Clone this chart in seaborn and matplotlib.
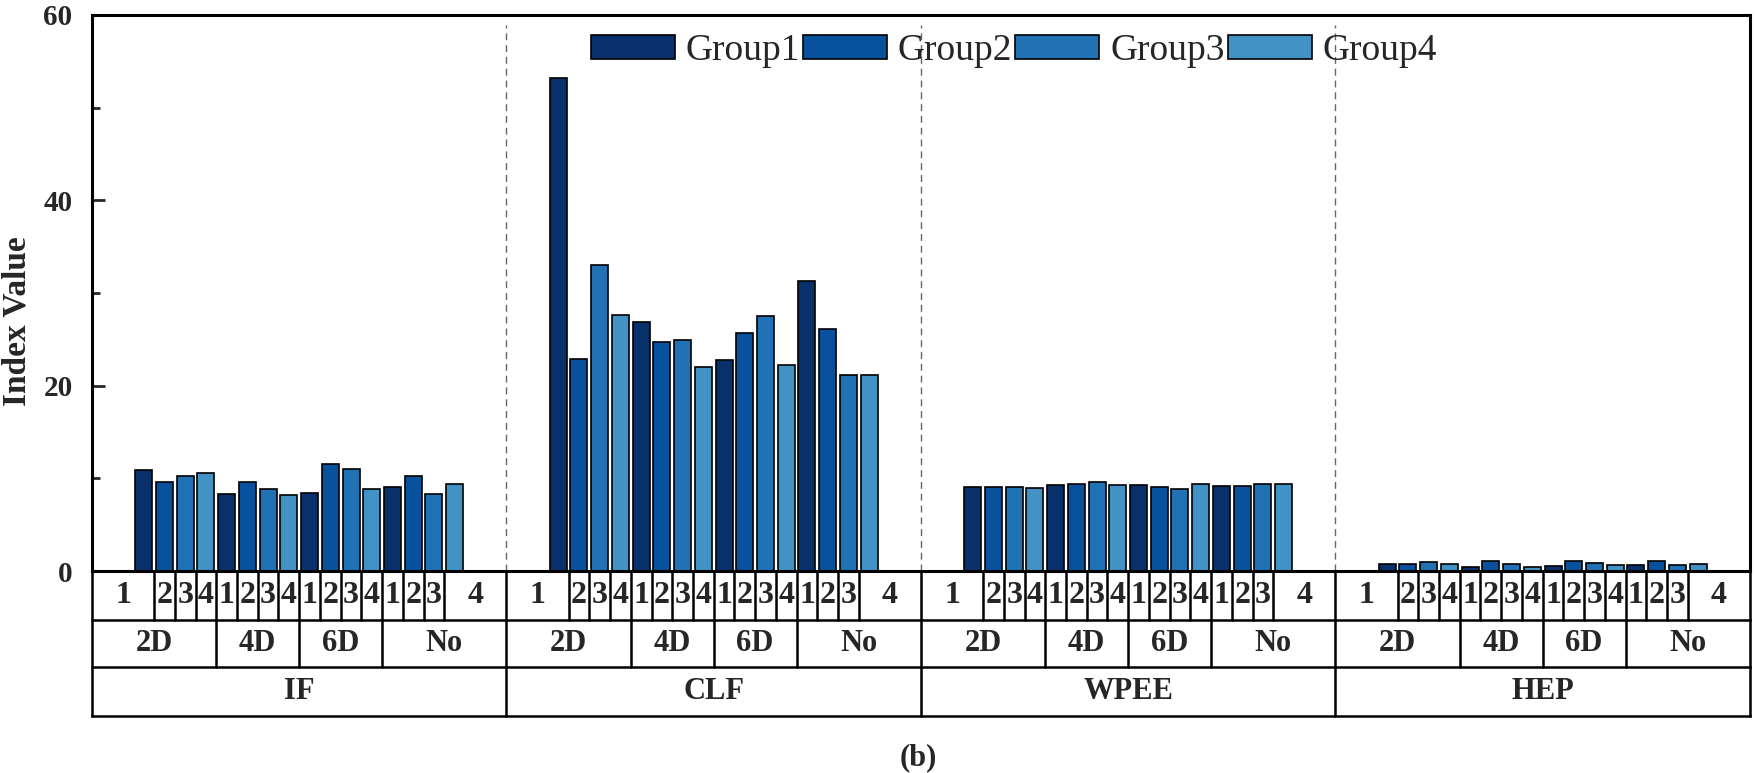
import pandas as pd
import numpy as np
import matplotlib.pyplot as plt
import seaborn as sns

# data
indices = ["IF", "CLF", "WPEE", "HEP"]
conditions = ["2D", "4D", "6D", "No"]
groups = ["Group1", "Group2", "Group3", "Group4"]

# 16 values per index: condition 2D,4D,6D,No x Group1..4
IF_vals = [10.9, 9.6, 10.2, 10.6, 8.3, 9.6, 8.9, 8.2, 8.4, 11.5, 11.0, 8.9, 9.1, 10.3, 8.3, 9.4]
CLF_vals = [53.2, 22.9, 33.0, 27.6, 26.9, 24.7, 24.9, 22.0, 22.8, 25.7, 27.5, 22.2, 31.3, 26.1, 21.2, 21.1]
WPEE_vals = [9.1, 9.1, 9.05, 9.0, 9.3, 9.4, 9.6, 9.25, 9.28, 9.06, 8.9, 9.38, 9.13, 9.13, 9.35, 9.42]
HEP_vals = [0.8, 0.8, 0.92, 0.8, 0.45, 1.08, 0.72, 0.38, 0.58, 1.05, 0.85, 0.63, 0.68, 1.13, 0.7, 0.73]

colors = ["#08306b", "#08519c", "#2171b5", "#4292c6"]

all_vals = [IF_vals, CLF_vals, WPEE_vals, HEP_vals]

# layout: each index panel = 20 slots, 2 empty slots at each side
SLOTS = 20
PAD = 2

rows = []
for p, idx in enumerate(indices):
    for c, cond in enumerate(conditions):
        for g, grp in enumerate(groups):
            k = c * 4 + g
            rows.append({"Index": idx, "Condition": cond, "Group": grp,
                         "x": p * SLOTS + PAD + k + 0.5,
                         "Value": all_vals[p][k]})
df = pd.DataFrame(rows)

sns.set_style("ticks")
plt.rcParams["font.family"] = ["Liberation Serif", "DejaVu Serif"]

fig = plt.figure(figsize=(17.55, 7.73), dpi=100)
ax = fig.add_axes([0.0524, 0.2613, 0.9447, 0.7193])

sns.barplot(data=df, x="x", y="Value", hue="Group", native_scale=True,
            dodge=False, width=0.82, palette=dict(zip(groups, colors)),
            saturation=1, edgecolor="black", linewidth=1.2, errorbar=None,
            ax=ax)

n_total = SLOTS * len(indices)
ax.set_xlim(0, n_total)
ax.set_ylim(0, 60)
ax.set_xticks([])
ax.set_xlabel("")
ax.set_yticks([0, 20, 40, 60])
ax.set_yticks([10, 30, 50], minor=True)
ax.tick_params(axis="y", which="major", direction="in", length=9, width=2,
               labelsize=21, pad=14)
ax.tick_params(axis="y", which="minor", direction="in", length=6, width=2)
for lab in ax.get_yticklabels():
    lab.set_fontweight("bold")
for sp in ax.spines.values():
    sp.set_visible(True)
    sp.set_linewidth(2.2)
    sp.set_color("black")

ax.set_ylabel("Index Value", fontsize=24, fontweight="bold")
ax.yaxis.set_label_coords(-0.036, 0.45)

# dashed separators between panels
for p in range(1, len(indices)):
    ax.axvline(p * SLOTS, ymin=0, ymax=0.982, color="#666666", lw=1.0,
               dashes=(5, 3.5), zorder=0)

# table below the axis
tr = ax.get_xaxis_transform()
r1, r2, r3 = -0.088, -0.1727, -0.2608
lw_t = 1.8
for y in [r1, r2, r3]:
    ax.plot([0, n_total], [y, y], color="black", lw=lw_t, transform=tr,
            clip_on=False, solid_capstyle="projecting")

for p, idx in enumerate(indices):
    x0 = p * SLOTS
    # panel borders through all rows
    ax.plot([x0, x0], [0, r3], color="black", lw=lw_t, transform=tr, clip_on=False)
    # bar cell borders (row 1), condition borders go through row 2
    for k in range(15):
        xb = x0 + PAD + k + 1
        ytop = r2 if (k + 1) % 4 == 0 else r1
        ax.plot([xb, xb], [0, ytop], color="black", lw=lw_t, transform=tr,
                clip_on=False)
    # row 1 labels
    for k in range(16):
        if k == 0:
            xc = x0 + (PAD + 1) / 2
        elif k == 15:
            xc = x0 + SLOTS - (PAD + 1) / 2
        else:
            xc = x0 + PAD + k + 0.5
        ax.text(xc, r1 / 2, str(k % 4 + 1), transform=tr, ha="center",
                va="center", fontsize=23, fontweight="bold")
    # row 2 labels
    edges = [0, PAD + 4, PAD + 8, PAD + 12, SLOTS]
    for c, cond in enumerate(conditions):
        xc = x0 + (edges[c] + edges[c + 1]) / 2
        ax.text(xc, (r1 + r2) / 2, cond, transform=tr, ha="center",
                va="center", fontsize=22, fontweight="bold")
    # row 3 label
    ax.text(x0 + SLOTS / 2, (r2 + r3) / 2, idx, transform=tr, ha="center",
            va="center", fontsize=22, fontweight="bold")
ax.plot([n_total, n_total], [0, r3], color="black", lw=lw_t, transform=tr,
        clip_on=False)

# legend across the top
handles, labels = ax.get_legend_handles_labels()
ax.legend(handles, labels, loc="center", bbox_to_anchor=(0.556, 0.935),
          ncol=4, frameon=False, fontsize=27, handlelength=2.24,
          handleheight=0.6, handletextpad=0.29, columnspacing=0.08,
          borderpad=0, borderaxespad=0)

fig.text(0.523, 0.02, "(b)", ha="center", va="center", fontsize=22,
         fontweight="bold")

fig.savefig("out.png", dpi=100)
